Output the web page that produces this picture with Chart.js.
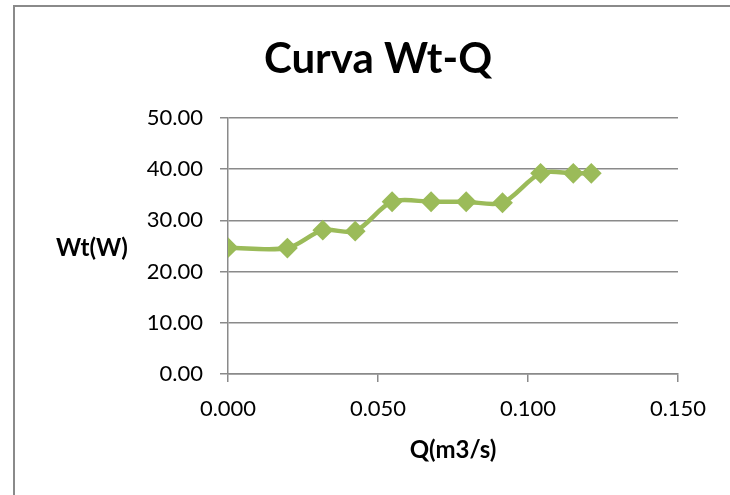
<!DOCTYPE html>
<html>
<head>
<meta charset="utf-8">
<title>Curva Wt-Q</title>
<script src="https://cdn.jsdelivr.net/npm/chart.js@4.4.1/dist/chart.umd.min.js"></script>
<style>
    html, body { margin: 0; padding: 0; background: #ffffff; }
    #wrap { position: relative; width: 730px; height: 495px; }
</style>
</head>
<body>
<div id="wrap"><canvas id="curvaChart" width="730" height="495"></canvas></div>
<script>
// Caudal (m3/s) y potencia Wt (W) medidos
const caudal = [0.000, 0.0198, 0.0316, 0.0424, 0.0547, 0.0677, 0.0794, 0.0915, 0.1042, 0.1151, 0.1211];
const potencia = [24.67, 24.60, 28.10, 27.90, 33.65, 33.65, 33.65, 33.45, 39.20, 39.20, 39.20];

const titulo = 'Curva Wt-Q';
const tituloY = 'Wt(W)';
const tituloX = 'Q(m3/s)';

const verde = '#9bbb59';
const gris = '#8a8a8a';
const fuente = 'Lato, "Open Sans", sans-serif';

// Marco del grafico, titulo y rotulo horizontal del eje Y
const decoracion = {
    id: 'decoracion',
    beforeDraw(chart) {
        const ctx = chart.ctx;
        ctx.save();
        ctx.strokeStyle = gris;
        ctx.lineWidth = 2;
        ctx.beginPath();
        ctx.moveTo(14, chart.height);
        ctx.lineTo(14, 6);
        ctx.lineTo(chart.width, 6);
        ctx.stroke();
        ctx.restore();
    },
    afterDraw(chart) {
        const ctx = chart.ctx;
        const area = chart.chartArea;
        ctx.save();
        ctx.fillStyle = '#000000';
        ctx.textAlign = 'center';
        ctx.textBaseline = 'alphabetic';
        ctx.font = 'bold 42px ' + fuente;
        ctx.fillText(titulo, 378, 73);

        ctx.font = 'bold 24px ' + fuente;
        ctx.textAlign = 'left';
        ctx.textBaseline = 'middle';
        ctx.fillText(tituloY, 56, (area.top + area.bottom) / 2 + 2);
        ctx.restore();
    }
};

const ctx = document.getElementById('curvaChart').getContext('2d');
new Chart(ctx, {
    type: 'scatter',
    data: {
        datasets: [{
            data: caudal.map((q, i) => ({ x: q, y: potencia[i] })),
            showLine: true,
            tension: 0.3,
            borderColor: verde,
            backgroundColor: verde,
            borderWidth: 4.5,
            pointStyle: 'rectRot',
            pointRadius: 9,
            pointBorderWidth: 2,
            pointBorderColor: verde,
            pointBackgroundColor: verde
        }]
    },
    options: {
        responsive: false,
        animation: false,
        layout: { padding: { top: 118, right: 52, bottom: 30, left: 0 } },
        plugins: {
            legend: { display: false },
            tooltip: { enabled: false }
        },
        scales: {
            x: {
                type: 'linear',
                min: 0,
                max: 0.15,
                ticks: {
                    stepSize: 0.05,
                    color: '#000000',
                    font: { family: fuente, size: 22 },
                    padding: 14,
                    callback: v => v.toFixed(3)
                },
                grid: { drawOnChartArea: false, drawTicks: true, tickLength: 8, color: gris, lineWidth: 1.5 },
                border: { display: true, color: gris, width: 1.5 },
                title: {
                    display: true,
                    text: tituloX,
                    color: '#000000',
                    font: { family: fuente, size: 24, weight: 'bold' },
                    padding: { top: 0, bottom: 0 }
                },
                afterFit(scale) { scale.height = 91; }
            },
            y: {
                min: 0,
                max: 50,
                ticks: {
                    stepSize: 10,
                    color: '#000000',
                    font: { family: fuente, size: 22 },
                    padding: 17,
                    callback: v => v.toFixed(2)
                },
                grid: { drawTicks: true, tickLength: 8, color: gris, lineWidth: 1.5 },
                border: { display: true, color: gris, width: 1.5 },
                afterFit(scale) { scale.width = 228; }
            }
        }
    },
    plugins: [decoracion]
});
</script>
</body>
</html>
